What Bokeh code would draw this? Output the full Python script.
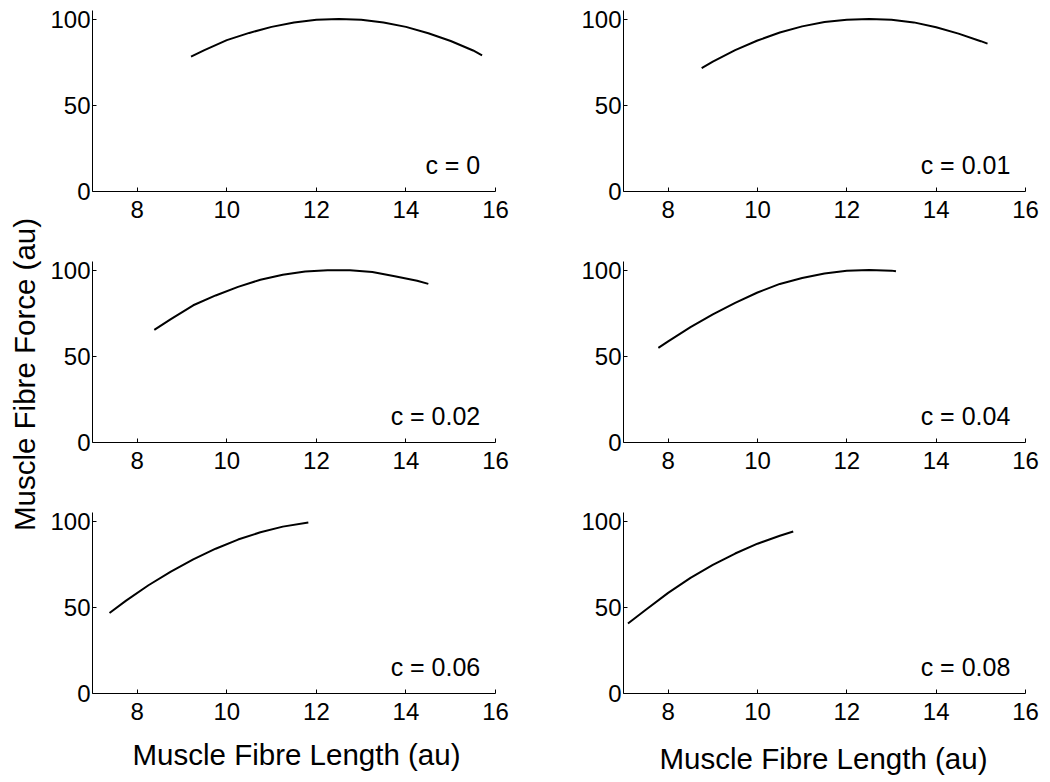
from bokeh.plotting import figure
from bokeh.models import Range1d, FixedTicker, Label
from bokeh.layouts import row, column
from bokeh.embed import file_html
from bokeh.resources import INLINE

# Force-length curves for each value of c (length in au, force in au)
length_c0 = [9.2, 9.5, 10.0, 10.5, 11.0, 11.5, 12.0, 12.5, 13.0, 13.5, 14.0, 14.5, 15.0, 15.5, 15.7]
force_c0 = [78.2, 82.0, 87.8, 92.0, 95.5, 98.0, 99.6, 100.0, 99.7, 98.0, 95.5, 91.8, 87.3, 81.8, 79.0]

length_c001 = [8.75, 9.0, 9.5, 10.0, 10.5, 11.0, 11.5, 12.0, 12.5, 13.0, 13.5, 14.0, 14.5, 15.0, 15.15]
force_c001 = [71.6, 75.4, 82.0, 87.6, 92.2, 95.8, 98.3, 99.7, 100.0, 99.7, 98.1, 95.3, 91.6, 87.2, 85.8]

length_c002 = [8.38, 8.75, 9.25, 9.75, 10.25, 10.75, 11.25, 11.75, 12.25, 12.75, 13.25, 13.75, 14.25, 14.5]
force_c002 = [65.3, 71.6, 79.6, 85.3, 90.3, 94.4, 97.3, 99.2, 99.9, 99.9, 98.9, 96.5, 93.8, 92.0]

length_c004 = [7.78, 8.0, 8.5, 9.0, 9.5, 10.0, 10.5, 11.0, 11.5, 12.0, 12.5, 13.0, 13.1]
force_c004 = [54.9, 58.7, 66.9, 74.3, 81.0, 87.0, 92.0, 95.4, 98.0, 99.6, 100.0, 99.7, 99.3]

length_c006 = [7.38, 7.75, 8.25, 8.75, 9.25, 9.75, 10.25, 10.75, 11.25, 11.82]
force_c006 = [46.7, 53.9, 62.8, 70.7, 77.8, 84.0, 89.3, 93.5, 96.8, 99.2]

length_c008 = [7.1, 7.5, 8.0, 8.5, 9.0, 9.5, 10.0, 10.5, 10.8]
force_c008 = [40.6, 48.6, 58.4, 67.1, 74.6, 81.2, 86.9, 91.5, 94.0]

panel_labels = ["c = 0", "c = 0.01", "c = 0.02", "c = 0.04", "c = 0.06", "c = 0.08"]
x_ticks = [8, 10, 12, 14, 16]
y_ticks = [0, 50, 100]

x_title = "Muscle Fibre Length (au)"
y_title = "Muscle Fibre Force (au)"

FONT = "Liberation Sans"
TICK_SIZE = "24px"
TITLE_SIZE = "29.5px"
series = [
    (length_c0, force_c0), (length_c001, force_c001),
    (length_c002, force_c002), (length_c004, force_c004),
    (length_c006, force_c006), (length_c008, force_c008),
]


def make_panel(i, xs, ys, label):
    col = i % 2
    rw = i // 2
    p = figure(
        frame_width=403 if col == 0 else 402, frame_height=181,
        min_border_left=47 if col == 0 else 63,
        min_border_right=65 if col == 0 else 25,
        min_border_top=10, min_border_bottom=40 if rw == 2 else 60,
        x_range=Range1d(7, 16), y_range=Range1d(0, 105),
        output_backend="svg", toolbar_location=None,
    )
    p.outline_line_color = None
    p.grid.visible = False
    p.background_fill_color = "white"
    p.border_fill_color = "white"
    for ax, ticks in ((p.xaxis, x_ticks), (p.yaxis, y_ticks)):
        ax.ticker = FixedTicker(ticks=ticks)
        ax.minor_tick_line_color = None
        ax.major_tick_in = 4
        ax.major_tick_out = 0
        ax.axis_line_color = "black"
        ax.major_tick_line_color = "black"
        ax.major_label_text_font = FONT
        ax.major_label_text_font_size = TICK_SIZE
        ax.major_label_text_color = "black"
    p.xaxis.major_label_standoff = 9
    p.yaxis.major_label_standoff = 2

    p.line(xs, ys, line_color="black", line_width=2)

    p.add_layout(Label(x=15.66, y=15.5, text=label, text_align="right",
                       text_baseline="alphabetic", text_font=FONT,
                       text_font_size="25px", text_color="black"))
    return p


panels = [make_panel(i, xs, ys, lab) for i, ((xs, ys), lab) in enumerate(zip(series, panel_labels))]


def blank_strip(w, h):
    s = figure(width=w, height=h, x_range=Range1d(0, w), y_range=Range1d(0, h),
               min_border=0, output_backend="svg", toolbar_location=None)
    s.axis.visible = False
    s.grid.visible = False
    s.outline_line_color = None
    return s


# strip carrying the shared vertical axis title
ylab = blank_strip(45, 782)
ylab.add_layout(Label(x=24, y=408, text=y_title, angle=1.5707963, text_align="center",
                      text_baseline="middle", text_font=FONT, text_font_size=TITLE_SIZE,
                      text_color="black"))

# strip under the bottom row carrying the horizontal axis titles
xlab = blank_strip(1005, 49)
xlab.add_layout(Label(x=251, y=28, text=x_title, text_align="center",
                      text_baseline="alphabetic", text_font=FONT,
                      text_font_size=TITLE_SIZE, text_color="black"))
xlab.add_layout(Label(x=778, y=24, text=x_title, text_align="center",
                      text_baseline="alphabetic", text_font=FONT,
                      text_font_size=TITLE_SIZE, text_color="black"))

grid = column(row(panels[0], panels[1]), row(panels[2], panels[3]),
              row(panels[4], panels[5]), xlab)
layout = row(ylab, grid)

with open("out.html", "w") as f:
    f.write(file_html(layout, INLINE))
